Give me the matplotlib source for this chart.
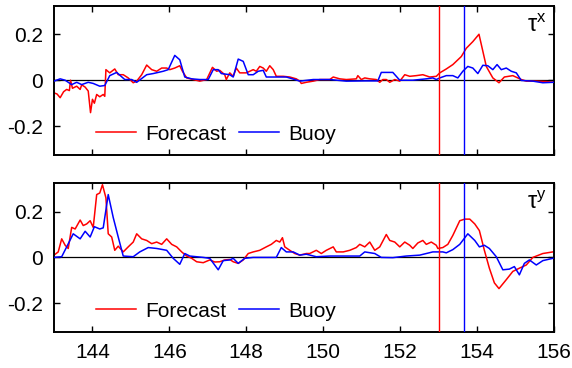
import numpy as np
import matplotlib
matplotlib.use("Agg")
import matplotlib.pyplot as plt

plt.rcParams['font.family'] = ['Liberation Sans', 'DejaVu Sans']
plt.rcParams['mathtext.fontset'] = 'custom'
plt.rcParams['mathtext.rm'] = 'Liberation Sans'
plt.rcParams['mathtext.it'] = 'Liberation Sans'
plt.rcParams['mathtext.default'] = 'regular'

# tau-x, forecast
fx_day = [143.00, 143.08, 143.16, 143.25, 143.33, 143.40, 143.43, 143.48, 143.59, 143.68,
          143.72, 143.81, 143.89, 143.95, 144.00, 144.05, 144.11, 144.19, 144.28, 144.32,
          144.35, 144.45, 144.58, 144.67, 144.80, 144.93, 145.06, 145.15, 145.28, 145.41,
          145.54, 145.67, 145.80, 145.93, 146.01, 146.14, 146.27, 146.34, 146.45, 146.62,
          146.79, 146.97, 147.12, 147.23, 147.31, 147.44, 147.48, 147.57, 147.66, 147.74,
          147.83, 148.00, 148.09, 148.18, 148.26, 148.35, 148.44, 148.52, 148.61, 148.70,
          148.78, 148.96, 149.13, 149.30, 149.39, 149.43, 149.56, 149.74, 149.91, 150.17,
          150.26, 150.43, 150.60, 150.86, 150.90, 150.99, 151.08, 151.21, 151.38, 151.47,
          151.55, 151.64, 151.73, 151.86, 151.99, 152.12, 152.25, 152.42, 152.59, 152.77,
          152.94, 153.03, 153.20, 153.37, 153.59, 153.72, 153.89, 154.05, 154.24, 154.41,
          154.57, 154.71, 154.93, 155.15, 155.28, 155.54, 155.80, 155.99]
fx_val = [-0.055, -0.060, -0.076, -0.050, -0.040, -0.045, 0.000, -0.035, -0.026, -0.040,
          -0.020, -0.030, -0.047, -0.141, -0.083, -0.100, -0.062, -0.072, -0.062, -0.070,
          0.046, 0.032, 0.049, 0.024, 0.024, 0.010, -0.011, -0.004, 0.024, 0.066,
          0.046, 0.039, 0.053, 0.053, 0.046, 0.053, 0.063, 0.039, 0.010, 0.003,
          -0.004, 0.003, 0.056, 0.039, 0.043, 0.024, 0.003, 0.032, 0.017, 0.053,
          0.032, 0.032, 0.039, 0.046, 0.039, 0.060, 0.053, 0.039, 0.063, 0.046,
          0.017, 0.017, 0.014, 0.006, -0.004, -0.014, -0.009, -0.004, 0.003, 0.003,
          0.014, 0.006, 0.003, 0.006, 0.020, 0.003, 0.010, 0.006, 0.003, -0.009,
          0.003, 0.003, -0.009, 0.003, -0.004, 0.024, 0.017, 0.020, 0.024, 0.014,
          0.017, 0.032, 0.049, 0.068, 0.103, 0.139, 0.168, 0.200, 0.060, 0.010,
          -0.011, 0.014, 0.020, 0.003, -0.004, -0.004, -0.006, -0.009]

# tau-x, buoy
bx_day = [143.00, 143.16, 143.29, 143.46, 143.59, 143.72, 143.89, 144.02, 144.19, 144.32,
          144.45, 144.63, 144.84, 145.02, 145.15, 145.41, 145.58, 145.84, 145.97, 146.14,
          146.27, 146.40, 146.58, 146.79, 147.01, 147.14, 147.27, 147.35, 147.57, 147.66,
          147.79, 147.92, 148.05, 148.18, 148.31, 148.44, 148.52, 148.70, 149.04, 149.26,
          149.39, 149.74, 150.17, 150.60, 151.08, 151.42, 151.51, 151.81, 151.99, 152.33,
          152.68, 152.85, 152.94, 153.03, 153.20, 153.37, 153.50, 153.63, 153.76, 153.89,
          154.02, 154.15, 154.28, 154.41, 154.52, 154.63, 154.76, 154.89, 155.02, 155.15,
          155.45, 155.71, 155.99]
bx_val = [-0.004, 0.006, 0.000, -0.019, -0.009, -0.019, -0.009, -0.014, -0.026, -0.023,
          0.020, 0.034, 0.003, 0.003, -0.009, 0.024, 0.029, 0.039, 0.046, 0.108,
          0.089, 0.014, 0.006, 0.003, 0.003, 0.046, 0.046, 0.029, 0.024, 0.014,
          0.092, 0.082, 0.024, 0.024, 0.039, 0.043, 0.014, 0.014, 0.014, 0.003,
          -0.004, 0.003, 0.003, -0.004, -0.003, -0.003, 0.034, 0.034, 0.000, 0.000,
          0.006, 0.010, 0.003, 0.010, 0.020, 0.020, 0.010, 0.039, 0.060, 0.053,
          0.029, 0.065, 0.063, 0.046, 0.068, 0.046, 0.053, 0.039, 0.032, -0.001,
          -0.004, -0.011, -0.009]

# tau-y, forecast
fy_day = [143.00, 143.11, 143.20, 143.29, 143.37, 143.46, 143.55, 143.68, 143.76, 143.85,
          143.94, 144.02, 144.11, 144.19, 144.26, 144.35, 144.41, 144.50, 144.58, 144.67,
          144.80, 144.93, 145.06, 145.15, 145.28, 145.41, 145.54, 145.67, 145.80, 145.93,
          146.06, 146.19, 146.32, 146.45, 146.58, 146.71, 146.88, 147.05, 147.18, 147.31,
          147.44, 147.57, 147.66, 147.79, 147.92, 148.05, 148.18, 148.35, 148.52, 148.65,
          148.78, 148.87, 148.94, 149.00, 149.13, 149.26, 149.39, 149.56, 149.65, 149.82,
          149.95, 150.08, 150.26, 150.34, 150.52, 150.69, 150.86, 150.95, 151.08, 151.21,
          151.34, 151.47, 151.64, 151.73, 151.86, 151.99, 152.12, 152.25, 152.33, 152.46,
          152.59, 152.68, 152.81, 152.94, 152.98, 153.11, 153.24, 153.37, 153.55, 153.68,
          153.81, 153.94, 154.06, 154.19, 154.32, 154.45, 154.57, 154.76, 154.93, 155.10,
          155.28, 155.45, 155.71, 155.97]
fy_val = [0.010, 0.024, 0.081, 0.053, 0.039, 0.131, 0.124, 0.163, 0.139, 0.146,
          0.160, 0.131, 0.274, 0.281, 0.317, 0.260, 0.103, 0.089, 0.031, 0.049,
          0.024, 0.046, 0.067, 0.103, 0.081, 0.074, 0.060, 0.067, 0.057, 0.081,
          0.057, 0.046, 0.024, 0.006, -0.004, -0.019, -0.023, -0.011, -0.020, -0.019,
          -0.011, -0.009, -0.019, -0.026, -0.011, 0.017, 0.024, 0.031, 0.046, 0.057,
          0.074, 0.067, 0.086, 0.046, 0.031, 0.017, 0.010, 0.017, 0.017, 0.031,
          0.017, 0.031, 0.046, 0.024, 0.024, 0.031, 0.043, 0.057, 0.046, 0.067,
          0.031, 0.046, 0.100, 0.074, 0.067, 0.046, 0.067, 0.053, 0.039, 0.063,
          0.074, 0.057, 0.067, 0.053, 0.039, 0.043, 0.057, 0.096, 0.160, 0.167,
          0.167, 0.146, 0.117, 0.031, -0.047, -0.111, -0.136, -0.097, -0.061, -0.047,
          -0.033, 0.000, 0.017, 0.024]

# tau-y, buoy
by_day = [143.00, 143.20, 143.33, 143.50, 143.68, 143.81, 143.94, 144.05, 144.19, 144.28,
          144.41, 144.54, 144.67, 144.80, 145.06, 145.23, 145.45, 145.67, 145.93, 146.10,
          146.27, 146.40, 146.53, 146.88, 147.05, 147.27, 147.40, 147.57, 147.66, 147.79,
          147.96, 148.18, 148.52, 148.78, 148.91, 149.04, 149.22, 149.39, 149.56, 149.82,
          150.17, 150.60, 150.95, 151.08, 151.34, 151.51, 151.81, 152.16, 152.51, 152.85,
          153.11, 153.20, 153.37, 153.55, 153.76, 153.94, 154.06, 154.19, 154.32, 154.50,
          154.67, 154.84, 154.97, 155.10, 155.23, 155.36, 155.54, 155.71, 155.97]
by_val = [0.000, 0.003, 0.046, 0.103, 0.081, 0.114, 0.089, 0.134, 0.124, 0.129,
          0.274, 0.174, 0.089, 0.006, 0.003, 0.024, 0.043, 0.039, 0.031, -0.004,
          -0.030, 0.017, 0.006, 0.000, -0.004, -0.054, -0.014, -0.011, -0.004, -0.026,
          -0.004, 0.000, 0.000, 0.000, 0.043, 0.024, 0.024, 0.010, 0.014, 0.003,
          0.006, 0.006, 0.006, 0.024, 0.017, 0.000, -0.001, 0.006, 0.010, 0.024,
          0.024, 0.020, 0.034, 0.057, 0.103, 0.074, 0.046, 0.053, 0.039, 0.003,
          -0.054, -0.051, -0.040, -0.076, -0.026, -0.011, -0.033, -0.014, -0.004]

forecast_time = 153.0
buoy_time = 153.65

x_ticks = [144, 146, 148, 150, 152, 154, 156]
y_ticks = [-0.2, 0, 0.2]
y_labels = ['-0.2', '0', '0.2']

fig = plt.figure(figsize=(5.72, 3.68), dpi=100)
ax1 = fig.add_axes([0.0944, 0.579, 0.8741, 0.406])
ax2 = fig.add_axes([0.0944, 0.098, 0.8741, 0.405])

panels = [(ax1, fx_day, fx_val, bx_day, bx_val, r'$\tau^{x}$'),
          (ax2, fy_day, fy_val, by_day, by_val, r'$\tau^{y}$')]

for ax, fd, fv, bd, bv, lab in panels:
    ax.axhline(0, color='black', lw=0.9, zorder=1)
    ax.plot(fd, fv, color='#ff0000', lw=1.1, label='Forecast', zorder=2)
    ax.plot(bd, bv, color='#0000ff', lw=1.1, label='Buoy', zorder=3)
    ax.axvline(forecast_time, color='#ff0000', lw=1.0, zorder=4)
    ax.axvline(buoy_time, color='#0000ff', lw=1.0, zorder=4)
    ax.set_xlim(143, 156)
    ax.set_ylim(-0.325, 0.325)
    ax.set_xticks(x_ticks)
    ax.set_yticks(y_ticks)
    ax.set_yticklabels(y_labels)
    ax.tick_params(direction='in', top=True, right=True, length=4, width=1.0,
                   labelsize=15, pad=8)
    for sp in ax.spines.values():
        sp.set_linewidth(1.4)
    ax.text(0.985, 0.94, lab, transform=ax.transAxes, ha='right', va='top', fontsize=17)
    ax.legend(loc='center left', bbox_to_anchor=(0.085, 0.14), frameon=False, ncol=2,
              fontsize=15, handlelength=1.9, handletextpad=0.45, columnspacing=0.6,
              borderpad=0, borderaxespad=0)

ax1.tick_params(labelbottom=False)

fig.savefig('out.png', dpi=100)
